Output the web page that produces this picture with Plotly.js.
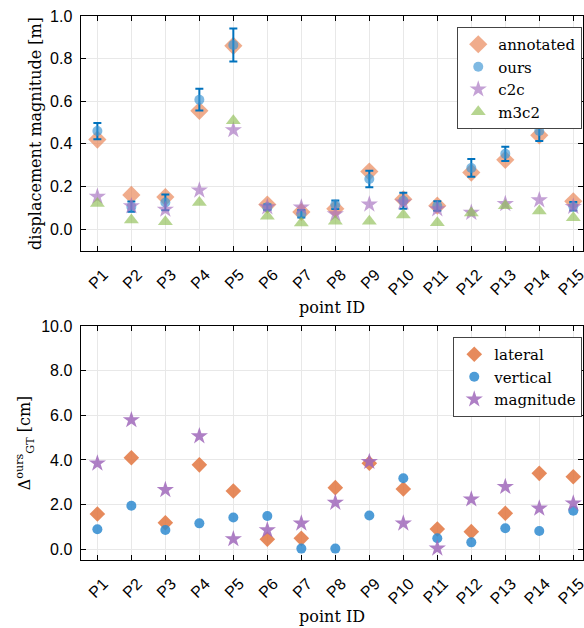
<!DOCTYPE html>
<html>
<head>
<meta charset="utf-8">
<script src="https://cdn.plot.ly/plotly-3.0.1.min.js"></script>
<style>html,body{margin:0;padding:0;background:#fff;}#chart{width:584px;height:628px;}</style>
</head>
<body>
<div id="chart"></div>
<script>
// ---- data ----
const pointIds = ['P1','P2','P3','P4','P5','P6','P7','P8','P9','P10','P11','P12','P13','P14','P15'];
// top panel: displacement magnitude [m]
const annotated = [0.42, 0.16, 0.15, 0.555, 0.86, 0.115, 0.08, 0.095, 0.27, 0.14, 0.11, 0.265, 0.325, 0.44, 0.13];
const ours      = [0.46, 0.105, 0.125, 0.607, 0.864, 0.102, 0.072, 0.114, 0.235, 0.133, 0.108, 0.287, 0.353, 0.46, 0.107];
const oursErr   = [0.038, 0.024, 0.037, 0.051, 0.077, 0.013, 0.018, 0.02, 0.039, 0.038, 0.022, 0.042, 0.033, 0.047, 0.02];
const c2c       = [0.152, 0.108, 0.092, 0.182, 0.465, 0.103, 0.102, 0.07, 0.116, 0.125, 0.094, 0.077, 0.118, 0.136, 0.105];
const m3c2      = [0.12, 0.042, 0.034, 0.125, 0.508, 0.06, 0.028, 0.037, 0.037, 0.066, 0.03, 0.075, 0.11, 0.085, 0.053];
// bottom panel: deviation to GT [cm]
const lateral   = [1.58, 4.1, 1.19, 3.78, 2.61, 0.45, 0.49, 2.76, 3.85, 2.7, 0.91, 0.79, 1.61, 3.4, 3.25];
const vertical  = [0.9, 1.95, 0.86, 1.16, 1.42, 1.49, 0.03, 0.03, 1.51, 3.18, 0.49, 0.31, 0.94, 0.82, 1.73];
const magnitude = [3.85, 5.79, 2.66, 5.07, 0.46, 0.86, 1.16, 2.09, 3.92, 1.16, 0.04, 2.24, 2.8, 1.83, 2.06];

const SERIF = 'DejaVu Serif, serif';
const SANS = 'Liberation Sans, Arial, sans-serif';

const traces = [
  {x: pointIds, y: annotated, name: 'annotated', type: 'scatter', mode: 'markers',
   marker: {symbol: 'diamond', size: 14, color: '#e8804f', opacity: 0.65}, xaxis: 'x', yaxis: 'y', legend: 'legend'},
  {x: pointIds, y: ours, name: 'ours', type: 'scatter', mode: 'markers',
   marker: {symbol: 'circle', size: 10, color: '#3b94d2', opacity: 0.65},
   error_y: {type: 'data', array: oursErr, visible: true, color: '#0072bd', thickness: 2, width: 4},
   xaxis: 'x', yaxis: 'y', legend: 'legend'},
  {x: pointIds, y: c2c, name: 'c2c', type: 'scatter', mode: 'markers',
   marker: {symbol: 'star', size: 13, color: '#a46fbf', opacity: 0.65}, xaxis: 'x', yaxis: 'y', legend: 'legend'},
  {x: pointIds, y: m3c2, name: 'm3c2', type: 'scatter', mode: 'markers',
   marker: {symbol: 'triangle-up', size: 13, color: '#8fbf55', opacity: 0.65}, xaxis: 'x', yaxis: 'y', legend: 'legend'},

  {x: pointIds, y: lateral, name: 'lateral', type: 'scatter', mode: 'markers',
   marker: {symbol: 'diamond', size: 12, color: '#e2763f', opacity: 0.85}, xaxis: 'x2', yaxis: 'y2', legend: 'legend2'},
  {x: pointIds, y: vertical, name: 'vertical', type: 'scatter', mode: 'markers',
   marker: {symbol: 'circle', size: 10, color: '#2f8bd0', opacity: 0.85}, xaxis: 'x2', yaxis: 'y2', legend: 'legend2'},
  {x: pointIds, y: magnitude, name: 'magnitude', type: 'scatter', mode: 'markers',
   marker: {symbol: 'star', size: 13, color: '#a068bb', opacity: 0.85}, xaxis: 'x2', yaxis: 'y2', legend: 'legend2'}
];

function xax(anchor) {
  return {
    domain: [0.1382, 0.9991], range: [-0.49, 14.3], anchor: anchor,
    type: 'category', showline: true, linecolor: '#000', linewidth: 1.2, mirror: 'allticks',
    ticks: 'inside', ticklen: 5, tickcolor: '#000', tickwidth: 1,
    showgrid: true, gridcolor: '#e8e8e8', gridwidth: 1, zeroline: false,
    tickangle: -45, tickfont: {family: SANS, size: 16, color: '#000'},
    ticklabelshift: 6, ticklabelstandoff: 7,
    title: {text: 'point ID', font: {family: SERIF, size: 16, color: '#000'}, standoff: 4},
    automargin: false
  };
}
function yax(anchor, domain, range, dtick, title, standoff) {
  return {
    domain: domain, range: range, anchor: anchor, dtick: dtick, tick0: 0, tickformat: '.1f',
    showline: true, linecolor: '#000', linewidth: 1.2, mirror: 'allticks',
    ticks: 'inside', ticklen: 5, tickcolor: '#000', tickwidth: 1,
    showgrid: true, gridcolor: '#e8e8e8', gridwidth: 1, zeroline: false,
    tickfont: {family: SANS, size: 16, color: '#000'}, ticklabelstandoff: 4,
    title: {text: title, font: {family: SERIF, size: 16, color: '#000'}, standoff: standoff},
    automargin: false
  };
}

const legendBase = {
  bgcolor: '#fff', bordercolor: '#444', borderwidth: 1,
  font: {family: SERIF, size: 15, color: '#000'}, tracegroupgap: 0
};

const layout = {
  width: 584, height: 628,
  margin: {l: 0, r: 0, t: 0, b: 0},
  paper_bgcolor: '#fff', plot_bgcolor: '#fff',
  showlegend: true,
  xaxis: xax('y'),
  yaxis: yax('x', [0.6003, 0.9745], [-0.103, 1.0], 0.2, 'displacement magnitude [m]', 4),
  xaxis2: xax('y2'),
  yaxis2: yax('x2', [0.1083, 0.4809], [-0.48, 10], 2, 'Δ<sup>ours</sup><sub>GT</sub> [cm]', 6),
  legend: Object.assign({x: 0.997, xanchor: 'right', y: 0.957, yanchor: 'top'}, legendBase),
  legend2: Object.assign({x: 0.997, xanchor: 'right', y: 0.4634, yanchor: 'top'}, legendBase)
};

Plotly.newPlot('chart', traces, layout, {displayModeBar: false, staticPlot: true});
</script>
</body>
</html>
